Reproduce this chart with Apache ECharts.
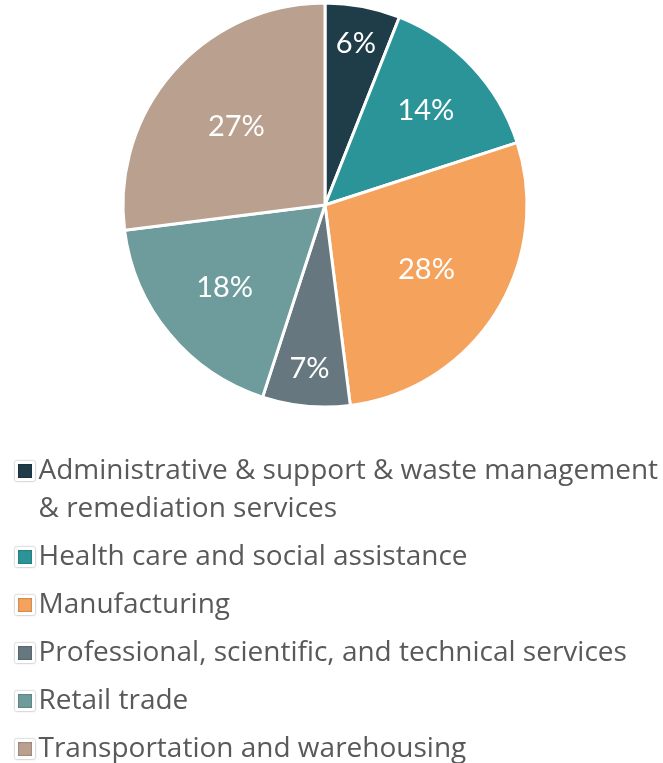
<!DOCTYPE html>
<html><head><meta charset="utf-8">
<script src="https://cdn.jsdelivr.net/npm/echarts@6/dist/echarts.min.js"></script>
<style>html,body{margin:0;padding:0;background:#fff}#c{width:663px;height:763px}</style>
</head><body><div id="c"></div>
<script>
const categories = [
  "Administrative & support & waste management & remediation services",
  "Health care and social assistance",
  "Manufacturing",
  "Professional, scientific, and technical services",
  "Retail trade",
  "Transportation and warehousing"
];
const values = [6, 14, 28, 7, 18, 27];
const colors = ["#1f3d49", "#2b9498", "#f5a25d", "#667780", "#6e9c9c", "#b9a08f"];
// label radial position as fraction of radius (style)
const labelFrac = [0.8, 0.67, 0.58, 0.8, 0.63, 0.57];

const R = 202, CX = 325, CY = 205;
const total = values.reduce((a, b) => a + b, 0);
const midAngles = [];
{ let acc = 0; values.forEach(v => { midAngles.push((acc + v / 2) / total * 2 * Math.PI); acc += v; }); }

const chart = echarts.init(document.getElementById('c'));
chart.setOption({
  animation: false,
  legend: {
    orient: 'vertical', left: 15, top: 414, padding: 0,
    itemWidth: 17, itemHeight: 17, itemGap: 10,
    icon: 'rect',
    itemStyle: { borderColor: '#fff', borderWidth: 3, shadowColor: 'rgba(0,0,0,0.45)', shadowBlur: 2 },
    textStyle: { fontFamily: 'Open Sans', fontSize: 28, color: '#595959', lineHeight: 38 },
    formatter: n => n === categories[0] ? "\nAdministrative & support & waste management\n& remediation services" : n,
    data: categories
  },
  series: [{
    type: 'pie',
    center: [CX, CY], radius: [0, R],
    startAngle: 90, clockwise: true,
    itemStyle: { borderColor: '#fff', borderWidth: 3 },
    label: {
      show: true, position: 'inside', formatter: '{c}%',
      color: '#fff', fontFamily: 'Lato', fontSize: 29
    },
    labelLine: { show: false },
    labelLayout: p => {
      const a = midAngles[p.dataIndex];
      const d = (labelFrac[p.dataIndex] - 0.5) * R;
      return { dx: d * Math.sin(a), dy: -d * Math.cos(a) };
    },
    data: categories.map((c, i) => ({ name: c, value: values[i], itemStyle: { color: colors[i] } }))
  }]
});
</script></body></html>
